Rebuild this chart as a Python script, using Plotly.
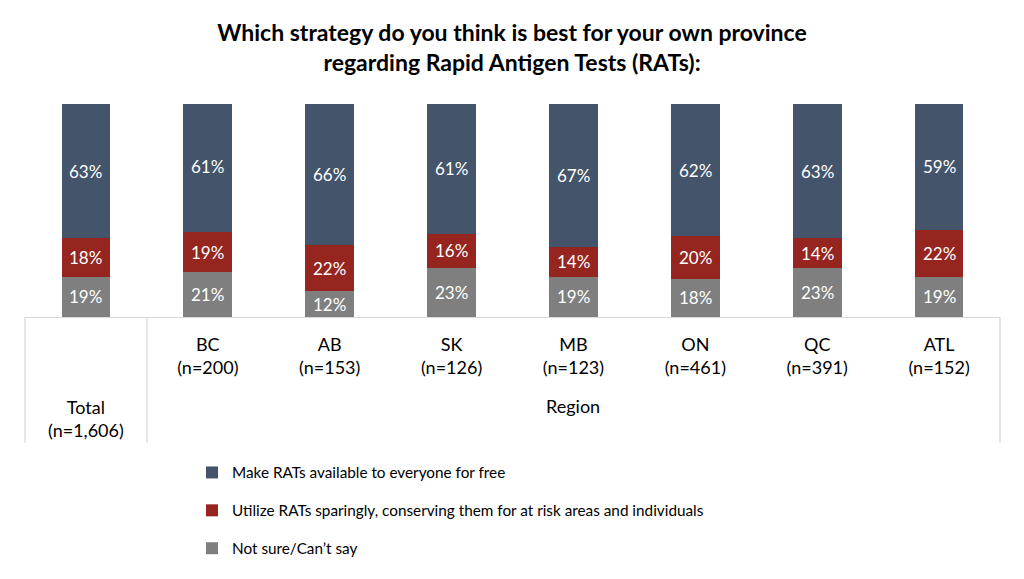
import plotly.graph_objects as go

categories = ["Total", "BC", "AB", "SK", "MB", "ON", "QC", "ATL"]
tick_labels = ["", "BC<br>(n=200)", "AB<br>(n=153)", "SK<br>(n=126)", "MB<br>(n=123)",
               "ON<br>(n=461)", "QC<br>(n=391)", "ATL<br>(n=152)"]
total_label = "Total<br>(n=1,606)"
group_label = "Region"

free_all = [63, 61, 66, 61, 67, 62, 63, 59]
sparingly = [18, 19, 22, 16, 14, 20, 14, 22]
not_sure = [19, 21, 12, 23, 19, 18, 23, 19]

series_names = ["Not sure/Can’t say",
                "Utilize RATs sparingly, conserving them for at risk areas and individuals",
                "Make RATs available to everyone for free"]
series_values = [not_sure, sparingly, free_all]
legend_ranks = [3, 2, 1]
colors = ["#7F7F7F", "#962520", "#44546A"]

FONT = "Lato, 'Open Sans', sans-serif"
OFF = 8  # default page body margin
W, H = 1024 - 2 * OFF, 579 - 2 * OFF
L = 25 - OFF
R = W - (1000 - OFF)
T = 104 - OFF
B = H - (317 - OFF)
plot_h = H - T - B
plot_w = W - L - R


def py(pix):
    return (317 - pix) / plot_h


def px(pix):
    return (pix - 25) / plot_w


fig = go.Figure()
annotations = []
base = [0] * len(categories)
for i, (name, vals, col, rk) in enumerate(zip(series_names, series_values, colors, legend_ranks)):
    fig.add_trace(go.Bar(
        x=categories, y=vals, name=name, marker_color=col,
        marker_line_width=0,
        legendgroup=f"g{i}", legendrank=rk,
    ))
    for j, (c, v) in enumerate(zip(categories, vals)):
        annotations.append(dict(text=f"{v}%", x=c, xref="x", y=base[j] + v / 2, yref="y",
                                showarrow=False, xanchor="center", yanchor="middle",
                                font=dict(size=17, color="white", family=FONT)))
        base[j] += v

shapes = []
line_col = "#D9D9D9"
for xp in [0, 0.125, 1]:
    shapes.append(dict(type="line", xref="paper", yref="paper",
                       x0=xp, x1=xp, y0=0, y1=py(443),
                       line=dict(color=line_col, width=1.3)))

annotations += [
    dict(text=total_label, x="Total", xref="x", y=py(418), yref="paper",
         showarrow=False, yanchor="middle",
         font=dict(size=18, color="#000000", family=FONT)),
    dict(text=group_label, x="MB", xref="x", y=py(406), yref="paper",
         showarrow=False, yanchor="middle",
         font=dict(size=18, color="#000000", family=FONT)),
]

fig.update_layout(
    width=W, height=H,
    margin=dict(l=L, r=R, t=T, b=B, autoexpand=False),
    paper_bgcolor="white", plot_bgcolor="white",
    barmode="stack", bargap=0.6,
    title=dict(text="<b>Which strategy do you think is best for your own province<br>regarding Rapid Antigen Tests (RATs):</b>",
               x=px(512), xanchor="center", xref="paper",
               y=1 - (41 - OFF) / H, yanchor="top",
               font=dict(size=23, color="#000000", family=FONT)),
    font=dict(family=FONT, size=16, color="#000000"),
    showlegend=True,
    legend=dict(orientation="v", x=px(192), xanchor="left",
                y=py(456), yanchor="top", traceorder="grouped",
                tracegroupgap=15, font=dict(size=15.3, color="#000000", family=FONT),
                itemwidth=30, bgcolor="rgba(0,0,0,0)"),
    shapes=shapes, annotations=annotations,
)
fig.update_xaxes(type="category", tickmode="array", tickvals=categories, ticktext=tick_labels,
                 showline=True, linecolor=line_col, linewidth=1.3,
                 ticks="outside", ticklen=11, tickcolor="rgba(0,0,0,0)",
                 tickfont=dict(size=18, color="#000000", family=FONT),
                 showgrid=False, zeroline=False, fixedrange=True)
fig.update_yaxes(range=[0, 100], visible=False, showgrid=False, zeroline=False)

fig.write_html("out.html")
